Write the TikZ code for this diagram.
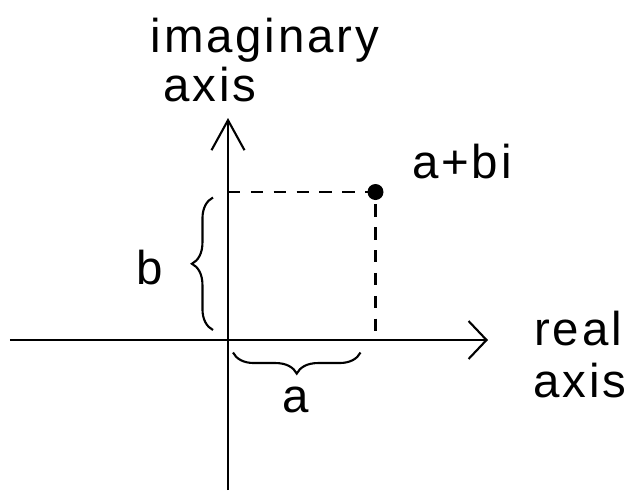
\documentclass[tikz,border=0pt]{standalone}
\usepackage{fontspec}
\setmainfont{Liberation Sans}[LetterSpace=6]
\usetikzlibrary{arrows.meta, decorations.pathreplacing}

\begin{document}
\begin{tikzpicture}[line width=1.2pt,
  lbl/.style={font=\fontsize{27}{30}\selectfont},
  dash line/.style={dash pattern=on 7pt off 6pt},
  curly/.style={decorate, decoration={brace, amplitude=12pt}}]
\useasboundingbox (-4.56,-3.06) rectangle (8.02,6.8);
% axes
\coordinate (o) at (0,0);
\coordinate (xl) at (-4.36,0);
\coordinate (xr) at (5.2,0);
\coordinate (yb) at (0,-3.0);
\coordinate (yt) at (0,4.44);
\draw[-{Straight Barb[length=0.36cm, width=0.76cm]}] (xl) -- (xr);
\draw[-{Straight Barb[length=0.6cm, width=0.66cm]}] (yb) -- (yt);
% point and dashed lines
\coordinate (p) at (2.95,2.96);
\coordinate (px) at (2.95,0);
\coordinate (py) at (0,2.96);
\draw[dash line] (py) -- (p) -- (px);
\fill (p) circle (0.16);
% braces
\coordinate (b1) at (-0.3,0.2);
\coordinate (b2) at (-0.3,2.85);
\draw[curly] (b1) -- (b2);
\coordinate (a1) at (0.1,-0.25);
\coordinate (a2) at (2.65,-0.25);
\draw[curly] (a2) -- (a1);
% labels
\node[lbl] (blab) at (-1.56,1.44) {b};
\node[lbl] (alab) at (1.36,-1.2) {a};
\node[lbl] (pt) at (4.68,3.56) {a+bi};
\node[lbl] (im) at (0.74,6.0) {imaginary};
\node[lbl] (imx) at (-0.36,5.1) {axis};
\node[lbl] (re) at (7.0,0.22) {real};
\node[lbl] (rex) at (7.04,-0.82) {axis};
\end{tikzpicture}
\end{document}
